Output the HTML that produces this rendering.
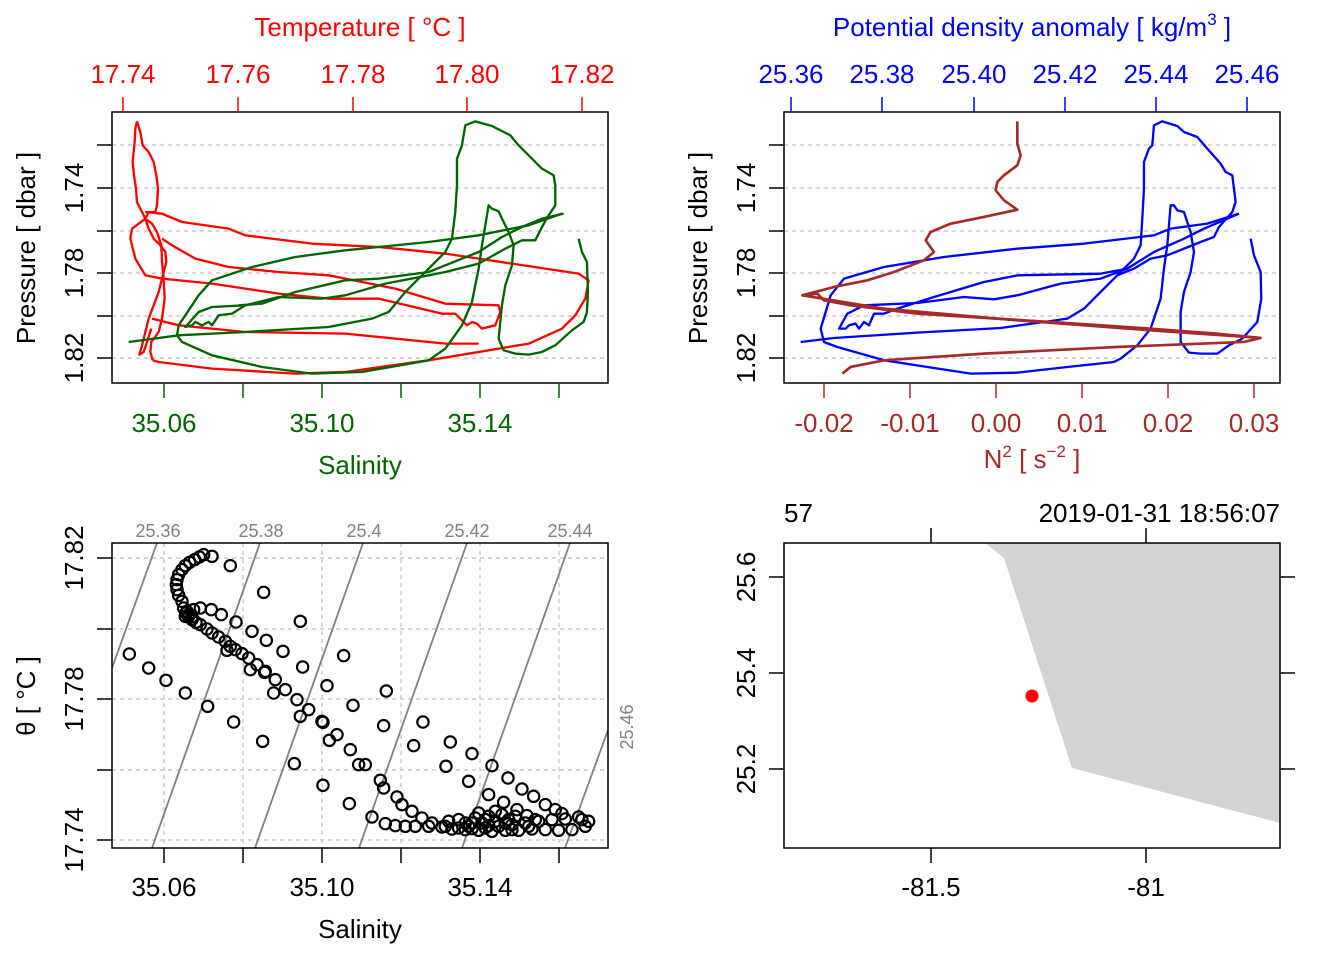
<!DOCTYPE html>
<html><head><meta charset="utf-8"><style>
html,body{margin:0;padding:0;background:#fff}
svg{display:block;font-family:"Liberation Sans",Arial,sans-serif}
</style></head><body>
<svg width="1344" height="960" viewBox="0 0 1344 960" xmlns="http://www.w3.org/2000/svg">
<!-- ===== Panel 1 ===== -->
<g stroke="#ccc" stroke-width="1.5" stroke-dasharray="4,4">
<line x1="112" y1="145" x2="608" y2="145"/><line x1="112" y1="188" x2="608" y2="188"/><line x1="112" y1="231" x2="608" y2="231"/><line x1="112" y1="273" x2="608" y2="273"/><line x1="112" y1="316" x2="608" y2="316"/><line x1="112" y1="358" x2="608" y2="358"/>
</g>
<g transform="translate(112,112) scale(0.3333)" fill="none" stroke-width="7" stroke-linejoin="round">
<g stroke="#ff0000">
<polyline points="75,28 70,50 68,90 62,150 66,190 72,230 75,270 90,300 100,320 110,350 125,380 145,400 160,420 163,450 150,500 140,540 125,580 110,620 100,660 90,700 82,728 95,720 105,690 118,650"/>
<polyline points="75,28 85,60 92,100 110,120 125,150 133,190 138,230 135,280 130,300 110,300 100,320 120,335 135,360 148,400 150,450 155,500 158,560 150,620 140,660 118,690 115,720 122,745"/>
<polyline points="100,300 150,305 210,330 350,350 400,370 600,395 800,405 1000,425 1200,455 1400,485 1430,505 1420,560 1390,610 1350,650 1250,695 950,745 700,780 550,785 300,770 140,750 122,745"/>
<polyline points="150,380 180,400 250,440 350,465 500,480 650,490 750,510 850,530 1000,575 1160,580 1165,600 1150,640 1110,650 1095,635 1080,630 1065,640 1045,620 1030,605 990,605 800,560 650,560 500,545 300,515 150,500 100,490 70,440 55,380 60,350 100,320"/>
<polyline points="120,620 200,640 400,660 700,665 900,685 1000,695 1100,695"/>
</g>
<g stroke="#006400">
<polyline points="50,690 200,670 400,660 650,645 780,620 830,600 880,540 950,470 1000,420 1020,380 1030,300 1035,220 1035,140 1050,100 1060,40 1090,28 1140,42 1195,70 1220,100 1250,130 1290,170 1325,190 1330,220 1330,280 1310,310 1290,345 1270,385 1230,385 1180,410 1100,455 1000,480 950,490 820,515 700,550 630,560 500,555 400,580 360,605 320,610 300,640 290,630 270,640 250,630 240,640 220,645 260,600 300,585 400,580"/>
<polyline points="1350,305 1250,340 1200,350 1100,370 950,390 800,405 700,415 550,435 420,465 300,505 260,550 200,640 195,670 210,690 300,730 450,765 600,785 750,780 950,745 1000,710 1050,640 1080,570 1100,470 1110,400 1120,340 1130,280 1140,290 1160,298 1170,320 1190,360 1205,400 1200,460 1180,520 1170,580 1160,680 1175,715 1210,725 1250,728 1290,720 1330,700 1380,655 1415,630 1425,600 1428,540 1425,450 1410,420 1400,380"/>
<polyline points="1355,305 1290,320 1230,345 1170,375 1100,420 1050,440 950,480 800,500 700,505 550,540 450,575 380,580"/>
</g>
</g>
<rect x="112" y="112" width="496" height="271" fill="none" stroke="#000" stroke-width="1.5"/>
<g stroke="#ff0000" stroke-width="1.5"><line x1="123" y1="97" x2="123" y2="112"/><line x1="238" y1="97" x2="238" y2="112"/><line x1="353" y1="97" x2="353" y2="112"/><line x1="467" y1="97" x2="467" y2="112"/><line x1="582" y1="97" x2="582" y2="112"/></g>
<g fill="#ff0000" font-size="26" text-anchor="middle"><text x="123" y="83">17.74</text><text x="238" y="83">17.76</text><text x="353" y="83">17.78</text><text x="467" y="83">17.80</text><text x="582" y="83">17.82</text><text x="360" y="36">Temperature [ °C ]</text></g>
<g stroke="#006400" stroke-width="1.5"><line x1="164" y1="383" x2="164" y2="398"/><line x1="243" y1="383" x2="243" y2="398"/><line x1="322" y1="383" x2="322" y2="398"/><line x1="401" y1="383" x2="401" y2="398"/><line x1="480" y1="383" x2="480" y2="398"/><line x1="559" y1="383" x2="559" y2="398"/></g>
<g fill="#006400" font-size="26" text-anchor="middle"><text x="164" y="432">35.06</text><text x="322" y="432">35.10</text><text x="480" y="432">35.14</text><text x="360" y="474">Salinity</text></g>
<g stroke="#000" stroke-width="1.5"><line x1="97" y1="145" x2="112" y2="145"/><line x1="97" y1="188" x2="112" y2="188"/><line x1="97" y1="231" x2="112" y2="231"/><line x1="97" y1="273" x2="112" y2="273"/><line x1="97" y1="316" x2="112" y2="316"/><line x1="97" y1="358" x2="112" y2="358"/></g>
<g font-size="26" text-anchor="middle"><text transform="translate(83,188) rotate(-90)">1.74</text><text transform="translate(83,273) rotate(-90)">1.78</text><text transform="translate(83,358) rotate(-90)">1.82</text><text transform="translate(35,248) rotate(-90)">Pressure [ dbar ]</text></g>

<!-- ===== Panel 2 ===== -->
<g stroke="#ccc" stroke-width="1.5" stroke-dasharray="4,4">
<line x1="784" y1="145" x2="1280" y2="145"/><line x1="784" y1="188" x2="1280" y2="188"/><line x1="784" y1="231" x2="1280" y2="231"/><line x1="784" y1="273" x2="1280" y2="273"/><line x1="784" y1="316" x2="1280" y2="316"/><line x1="784" y1="358" x2="1280" y2="358"/>
</g>
<g transform="translate(784,112) scale(0.3333)" fill="none" stroke-width="7" stroke-linejoin="round">
<g stroke="#0000ff">
<polyline points="50,690 150,678 400,662 650,648 780,630 850,620 900,590 950,540 1000,490 1050,440 1070,400 1075,320 1080,230 1080,150 1095,110 1105,100 1110,40 1135,28 1180,42 1200,60 1240,75 1270,110 1310,155 1325,180 1345,190 1350,230 1355,270 1345,300 1305,345 1290,375 1250,390 1150,430 1100,440 1050,470 1000,490"/>
<polyline points="1365,305 1270,335 1160,350 1110,370 900,395 700,410 480,435 300,465 180,500 140,550 110,650 120,690 160,705 300,745 560,785 700,782 850,765 990,750 1010,740 1060,700 1100,650 1130,560 1140,470 1150,400 1160,280 1170,280 1180,295 1200,300 1220,360 1230,420 1220,480 1200,540 1190,600 1190,690 1215,722 1250,725 1300,725 1335,700 1375,680 1420,630 1432,560 1430,480 1410,430 1400,380"/>
<polyline points="1365,305 1260,350 1200,380 1110,420 1030,470 950,485 700,490 600,510 450,555 340,590 300,605 270,605 255,640 240,630 225,650 215,635 195,640 185,650 165,650 190,605 240,580 400,573 540,555 630,562 700,550 830,515 950,500 1030,470"/>
</g>
<g stroke="#a52a2a" stroke-width="8">
<polyline points="700,28 700,95 710,130 700,160 660,190 640,210 635,235 660,265 700,293 600,315 500,335 440,360 425,385 450,420 420,445 330,480 250,505 150,525 55,550 100,545 120,565 200,580 400,605 800,630 1100,650 1300,665 1430,678 1380,690 1000,705 600,725 300,745 200,765 175,785"/>
<polyline points="55,550 300,590 700,625 1100,655 1430,678"/>
</g>
</g>
<rect x="784" y="112" width="496" height="271" fill="none" stroke="#000" stroke-width="1.5"/>
<g stroke="#0000ff" stroke-width="1.5"><line x1="791" y1="97" x2="791" y2="112"/><line x1="882" y1="97" x2="882" y2="112"/><line x1="974" y1="97" x2="974" y2="112"/><line x1="1065" y1="97" x2="1065" y2="112"/><line x1="1156" y1="97" x2="1156" y2="112"/><line x1="1247" y1="97" x2="1247" y2="112"/></g>
<g fill="#0000ff" font-size="26" text-anchor="middle"><text x="791" y="83">25.36</text><text x="882" y="83">25.38</text><text x="974" y="83">25.40</text><text x="1065" y="83">25.42</text><text x="1156" y="83">25.44</text><text x="1247" y="83">25.46</text><text x="1032" y="36">Potential density anomaly [ kg/m<tspan font-size="17" dy="-11">3</tspan><tspan dy="11"> ]</tspan></text></g>
<g stroke="#a52a2a" stroke-width="1.5"><line x1="824" y1="383" x2="824" y2="398"/><line x1="910" y1="383" x2="910" y2="398"/><line x1="996" y1="383" x2="996" y2="398"/><line x1="1082" y1="383" x2="1082" y2="398"/><line x1="1168" y1="383" x2="1168" y2="398"/><line x1="1254" y1="383" x2="1254" y2="398"/></g>
<g fill="#a52a2a" font-size="26" text-anchor="middle"><text x="824" y="432">-0.02</text><text x="910" y="432">-0.01</text><text x="996" y="432">0.00</text><text x="1082" y="432">0.01</text><text x="1168" y="432">0.02</text><text x="1254" y="432">0.03</text><text x="1032" y="468">N<tspan font-size="17" dy="-11">2</tspan><tspan dy="11"> [ s</tspan><tspan font-size="17" dy="-11">−2</tspan><tspan dy="11"> ]</tspan></text></g>
<g stroke="#000" stroke-width="1.5"><line x1="769" y1="145" x2="784" y2="145"/><line x1="769" y1="188" x2="784" y2="188"/><line x1="769" y1="231" x2="784" y2="231"/><line x1="769" y1="273" x2="784" y2="273"/><line x1="769" y1="316" x2="784" y2="316"/><line x1="769" y1="358" x2="784" y2="358"/></g>
<g font-size="26" text-anchor="middle"><text transform="translate(755,188) rotate(-90)">1.74</text><text transform="translate(755,273) rotate(-90)">1.78</text><text transform="translate(755,358) rotate(-90)">1.82</text><text transform="translate(707,248) rotate(-90)">Pressure [ dbar ]</text></g>

<!-- ===== Panel 3 ===== -->
<g stroke="#ccc" stroke-width="1.5" stroke-dasharray="4,4">
<line x1="112" y1="558" x2="608" y2="558"/><line x1="112" y1="629" x2="608" y2="629"/><line x1="112" y1="699" x2="608" y2="699"/><line x1="112" y1="770" x2="608" y2="770"/><line x1="112" y1="840" x2="608" y2="840"/>
<line x1="164" y1="543" x2="164" y2="848"/><line x1="243" y1="543" x2="243" y2="848"/><line x1="322" y1="543" x2="322" y2="848"/><line x1="401" y1="543" x2="401" y2="848"/><line x1="480" y1="543" x2="480" y2="848"/><line x1="559" y1="543" x2="559" y2="848"/>
</g>
<g stroke="#808080" stroke-width="1.8">
<line x1="112" y1="668" x2="157" y2="543"/><line x1="152" y1="848" x2="260" y2="543"/><line x1="255" y1="848" x2="363" y2="543"/><line x1="359" y1="848" x2="467" y2="543"/><line x1="462" y1="848" x2="570" y2="543"/><line x1="565" y1="848" x2="608" y2="730"/>
</g>
<g fill="#808080" font-size="18" text-anchor="middle"><text x="158" y="537">25.36</text><text x="261" y="537">25.38</text><text x="364" y="537">25.4</text><text x="467" y="537">25.42</text><text x="570" y="537">25.44</text><text transform="translate(633,727) rotate(-90)">25.46</text></g>
<g transform="translate(112,543) scale(0.3333)" fill="none" stroke="#000" stroke-width="6.5">
<circle cx="300" cy="40" r="17"/><circle cx="275" cy="35" r="17"/><circle cx="262" cy="42" r="17"/><circle cx="248" cy="50" r="17"/><circle cx="233" cy="58" r="17"/><circle cx="220" cy="68" r="17"/><circle cx="210" cy="80" r="17"/><circle cx="200" cy="95" r="17"/><circle cx="195" cy="110" r="17"/><circle cx="193" cy="125" r="17"/><circle cx="195" cy="140" r="17"/><circle cx="200" cy="157" r="17"/><circle cx="210" cy="175" r="17"/><circle cx="215" cy="195" r="17"/><circle cx="222" cy="210" r="17"/><circle cx="230" cy="220" r="17"/><circle cx="240" cy="230" r="17"/><circle cx="252" cy="238" r="17"/><circle cx="265" cy="245" r="17"/><circle cx="285" cy="258" r="17"/><circle cx="300" cy="270" r="17"/><circle cx="320" cy="282" r="17"/><circle cx="340" cy="295" r="17"/><circle cx="355" cy="310" r="17"/><circle cx="370" cy="320" r="17"/><circle cx="390" cy="332" r="17"/><circle cx="410" cy="345" r="17"/><circle cx="435" cy="365" r="17"/><circle cx="460" cy="385" r="17"/><circle cx="490" cy="410" r="17"/><circle cx="520" cy="440" r="17"/><circle cx="555" cy="470" r="17"/><circle cx="590" cy="500" r="17"/><circle cx="630" cy="535" r="17"/><circle cx="675" cy="575" r="17"/><circle cx="715" cy="620" r="17"/><circle cx="740" cy="665" r="17"/><circle cx="760" cy="665" r="17"/><circle cx="805" cy="712" r="17"/><circle cx="815" cy="735" r="17"/><circle cx="855" cy="762" r="17"/><circle cx="870" cy="785" r="17"/><circle cx="900" cy="805" r="17"/><circle cx="930" cy="825" r="17"/><circle cx="960" cy="840" r="17"/><circle cx="1000" cy="850" r="17"/><circle cx="1040" cy="855" r="17"/><circle cx="1080" cy="857" r="17"/><circle cx="1120" cy="855" r="17"/><circle cx="1160" cy="850" r="17"/><circle cx="1200" cy="845" r="17"/><circle cx="1240" cy="840" r="17"/><circle cx="1280" cy="835" r="17"/><circle cx="1320" cy="830" r="17"/><circle cx="1360" cy="828" r="17"/><circle cx="1400" cy="822" r="17"/><circle cx="1430" cy="835" r="17"/><circle cx="1420" cy="850" r="17"/><circle cx="1380" cy="860" r="17"/><circle cx="1340" cy="862" r="17"/><circle cx="1300" cy="860" r="17"/><circle cx="1260" cy="858" r="17"/><circle cx="1220" cy="862" r="17"/><circle cx="1180" cy="862" r="17"/><circle cx="1140" cy="865" r="17"/><circle cx="1100" cy="862" r="17"/><circle cx="1060" cy="860" r="17"/><circle cx="1020" cy="858" r="17"/><circle cx="990" cy="852" r="17"/><circle cx="950" cy="850" r="17"/><circle cx="910" cy="850" r="17"/><circle cx="880" cy="850" r="17"/><circle cx="850" cy="848" r="17"/><circle cx="820" cy="842" r="17"/><circle cx="780" cy="822" r="17"/>
<circle cx="355" cy="68" r="17"/><circle cx="455" cy="148" r="17"/><circle cx="565" cy="235" r="17"/><circle cx="695" cy="338" r="17"/><circle cx="823" cy="444" r="17"/><circle cx="933" cy="537" r="17"/><circle cx="1015" cy="597" r="17"/><circle cx="1080" cy="632" r="17"/><circle cx="1140" cy="668" r="17"/><circle cx="1188" cy="705" r="17"/><circle cx="1230" cy="738" r="17"/><circle cx="1265" cy="760" r="17"/><circle cx="1300" cy="785" r="17"/><circle cx="1330" cy="800" r="17"/><circle cx="1350" cy="812" r="17"/>
<circle cx="52" cy="333" r="17"/><circle cx="110" cy="375" r="17"/><circle cx="162" cy="412" r="17"/><circle cx="220" cy="450" r="17"/><circle cx="287" cy="490" r="17"/><circle cx="365" cy="537" r="17"/><circle cx="452" cy="595" r="17"/><circle cx="547" cy="662" r="17"/><circle cx="633" cy="727" r="17"/><circle cx="712" cy="782" r="17"/>
<circle cx="372" cy="237" r="17"/><circle cx="420" cy="265" r="17"/><circle cx="463" cy="292" r="17"/><circle cx="513" cy="325" r="17"/><circle cx="572" cy="372" r="17"/><circle cx="645" cy="428" r="17"/><circle cx="723" cy="487" r="17"/><circle cx="815" cy="548" r="17"/><circle cx="905" cy="608" r="17"/><circle cx="1002" cy="670" r="17"/><circle cx="1070" cy="715" r="17"/><circle cx="1130" cy="755" r="17"/><circle cx="1175" cy="778" r="17"/><circle cx="1215" cy="800" r="17"/><circle cx="1245" cy="818" r="17"/><circle cx="1270" cy="830" r="17"/>
<circle cx="485" cy="450" r="17"/><circle cx="565" cy="520" r="17"/><circle cx="633" cy="538" r="17"/><circle cx="652" cy="592" r="17"/><circle cx="415" cy="380" r="17"/><circle cx="458" cy="388" r="17"/><circle cx="345" cy="322" r="17"/><circle cx="265" cy="195" r="17"/><circle cx="298" cy="200" r="17"/><circle cx="328" cy="215" r="17"/>
<circle cx="230" cy="215" r="17"/><circle cx="220" cy="220" r="17"/><circle cx="245" cy="200" r="17"/><circle cx="225" cy="205" r="17"/><circle cx="240" cy="222" r="17"/>
<circle cx="1040" cy="830" r="17"/><circle cx="1060" cy="840" r="17"/><circle cx="1090" cy="825" r="17"/><circle cx="1110" cy="840" r="17"/><circle cx="1130" cy="820" r="17"/><circle cx="1150" cy="835" r="17"/><circle cx="1170" cy="815" r="17"/><circle cx="1190" cy="830" r="17"/><circle cx="1100" cy="810" r="17"/><circle cx="1150" cy="805" r="17"/><circle cx="1210" cy="820" r="17"/><circle cx="1010" cy="835" r="17"/><circle cx="1070" cy="850" r="17"/><circle cx="1130" cy="848" r="17"/><circle cx="1200" cy="860" r="17"/><circle cx="1250" cy="850" r="17"/><circle cx="1120" cy="830" r="17"/><circle cx="1180" cy="840" r="17"/><circle cx="1080" cy="840" r="17"/><circle cx="1410" cy="830" r="17"/>
</g>
<rect x="112" y="543" width="496" height="305" fill="none" stroke="#000" stroke-width="1.5"/>
<g stroke="#000" stroke-width="1.5"><line x1="164" y1="848" x2="164" y2="863"/><line x1="243" y1="848" x2="243" y2="863"/><line x1="322" y1="848" x2="322" y2="863"/><line x1="401" y1="848" x2="401" y2="863"/><line x1="480" y1="848" x2="480" y2="863"/><line x1="559" y1="848" x2="559" y2="863"/>
<line x1="97" y1="558" x2="112" y2="558"/><line x1="97" y1="629" x2="112" y2="629"/><line x1="97" y1="699" x2="112" y2="699"/><line x1="97" y1="770" x2="112" y2="770"/><line x1="97" y1="840" x2="112" y2="840"/></g>
<g font-size="26" text-anchor="middle"><text x="164" y="896">35.06</text><text x="322" y="896">35.10</text><text x="480" y="896">35.14</text><text x="360" y="938">Salinity</text>
<text transform="translate(83,558) rotate(-90)">17.82</text><text transform="translate(83,699) rotate(-90)">17.78</text><text transform="translate(83,840) rotate(-90)">17.74</text><text transform="translate(35,696) rotate(-90)">θ [ °C ]</text></g>

<!-- ===== Panel 4 ===== -->
<polygon points="985,543 1004,558 1072,768 1280,823 1280,543" fill="#d3d3d3"/>
<circle cx="1032" cy="696" r="6.5" fill="#ff0000"/>
<rect x="784" y="543" width="496" height="305" fill="none" stroke="#000" stroke-width="1.5"/>
<g stroke="#000" stroke-width="1.5">
<line x1="931" y1="528" x2="931" y2="543"/><line x1="1146" y1="528" x2="1146" y2="543"/>
<line x1="931" y1="848" x2="931" y2="863"/><line x1="1146" y1="848" x2="1146" y2="863"/>
<line x1="769" y1="577" x2="784" y2="577"/><line x1="769" y1="673" x2="784" y2="673"/><line x1="769" y1="769" x2="784" y2="769"/>
<line x1="1280" y1="577" x2="1295" y2="577"/><line x1="1280" y1="673" x2="1295" y2="673"/><line x1="1280" y1="769" x2="1295" y2="769"/>
</g>
<g font-size="26"><text x="784" y="522">57</text><text x="1280" y="522" text-anchor="end">2019-01-31 18:56:07</text></g>
<g font-size="26" text-anchor="middle"><text x="931" y="896">-81.5</text><text x="1146" y="896">-81</text>
<text transform="translate(755,577) rotate(-90)">25.6</text><text transform="translate(755,673) rotate(-90)">25.4</text><text transform="translate(755,769) rotate(-90)">25.2</text></g>
</svg>
</body></html>
